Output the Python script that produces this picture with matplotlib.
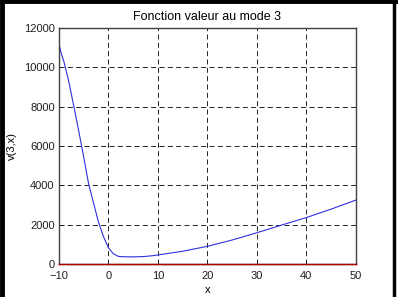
import numpy as np
import matplotlib
matplotlib.use('Agg')
import matplotlib.pyplot as plt
from matplotlib.lines import Line2D

# valeurs
x = [-10, -9.5, -9, -8, -7, -6, -5, -4, -3, -2, -1, 0, 1, 2, 3, 4, 5, 6, 7, 8, 9, 10,
     15, 20, 25, 30, 35, 40, 45, 50]
v = [11200, 10680, 10300, 9270, 8040, 6770, 5450, 4080, 3100, 2130, 1400, 830, 520, 390,
     370, 365, 365, 370, 380, 400, 425, 460, 650, 900, 1220, 1590, 1980, 2360, 2790, 3250]
x_zero = [-10, 50]
v_zero = [0, 0]

xticks = [-10, 0, 10, 20, 30, 40, 50]
yticks = [0, 2000, 4000, 6000, 8000, 10000, 12000]

plt.rcParams['font.family'] = ['Liberation Sans', 'DejaVu Sans']
plt.rcParams['font.size'] = 8

fig = plt.figure(figsize=(3.98, 2.97), dpi=100)
ax = fig.add_axes([0.148, 0.111, 0.746, 0.795])

ax.plot(x, v, color='#3030e0', lw=0.8)
ax.plot(x_zero, v_zero, color='#b00000', lw=1.0, clip_on=False, zorder=5)

ax.set_xlim(-10, 50)
ax.set_ylim(0, 12000)
ax.set_xticks(xticks)
ax.set_yticks(yticks)
ax.tick_params(direction='in', length=3, width=0.6, colors='#202020')
ax.tick_params(axis='x', pad=5)
ax.tick_params(axis='y', pad=3)
ax.grid(True, color='black', linestyle=(0, (6, 4)), linewidth=0.6)
for s in ax.spines.values():
    s.set_color('#404040')
    s.set_linewidth(1.0)

ax.set_title('Fonction valeur au mode 3', fontsize=9, pad=6)
ax.set_xlabel('x', labelpad=3)
ax.set_ylabel('v(3,x)', labelpad=5)

# cadre noir autour de l'image
fig.add_artist(Line2D([0, 1], [0.995, 0.995], color='black', lw=3.5, transform=fig.transFigure))
fig.add_artist(Line2D([0.006, 0.006], [0, 1], color='black', lw=3.5, transform=fig.transFigure))
fig.add_artist(Line2D([0.99, 0.99], [0, 1], color='black', lw=2.5, transform=fig.transFigure))

fig.savefig('out.png', dpi=100)
